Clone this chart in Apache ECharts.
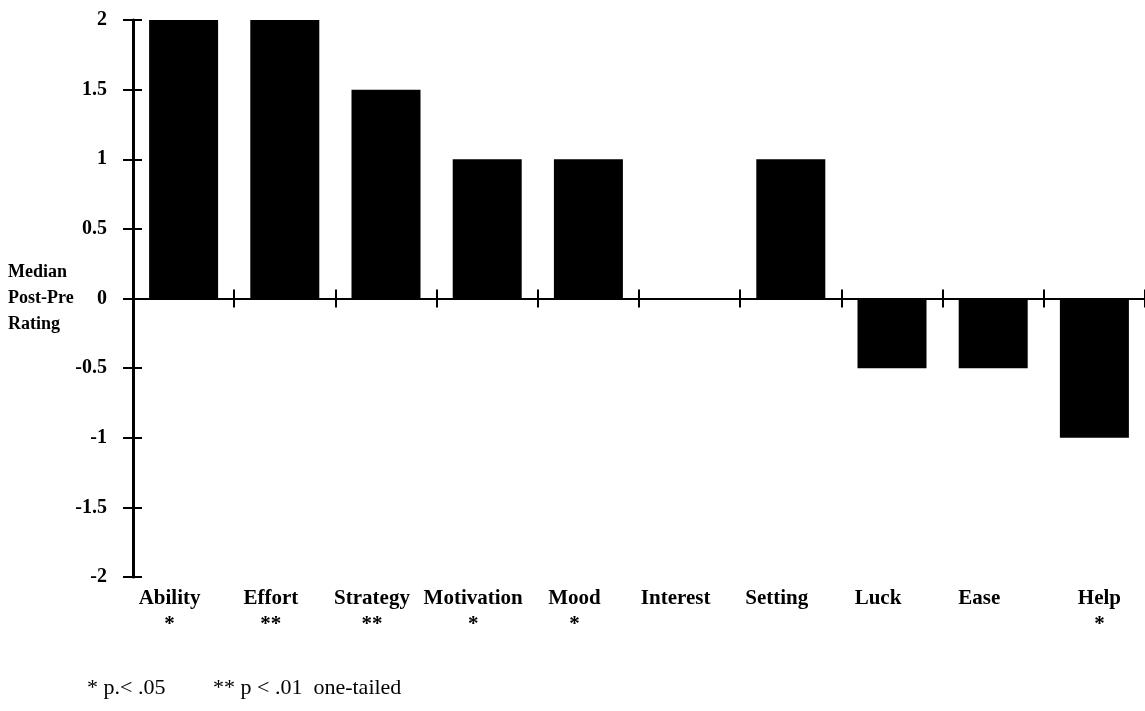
<!DOCTYPE html>
<html>
<head>
<meta charset="utf-8">
<script src="https://cdn.jsdelivr.net/npm/echarts@6/dist/echarts.min.js"></script>
<style>
  html, body { margin: 0; padding: 0; background: #fff; }
  #chart { width: 1145px; height: 711px; }
</style>
</head>
<body>
<div id="chart"></div>
<script>
// Attribution factors and their median post-minus-pre rating change
const categories = ['Ability', 'Effort', 'Strategy', 'Motivation', 'Mood', 'Interest', 'Setting', 'Luck', 'Ease', 'Help'];
const medianChange = [2, 2, 1.5, 1, 1, 0, 1, -0.5, -0.5, -1];
// Significance markers shown under each factor name
const significance = ['*', '**', '**', '*', '*', '', '', '', '', '*'];
const yTicks = { min: -2, max: 2, step: 0.5 };
const footnotes = ['* p.< .05', '** p < .01  one-tailed'];
const yTitle = ['Median', 'Post-Pre', 'Rating'];

const serif = '"Liberation Serif", "Times New Roman", serif';
const chart = echarts.init(document.getElementById('chart'), null, { renderer: 'canvas' });

const valueAxisBase = {
  type: 'value',
  position: 'left',
  min: yTicks.min,
  max: yTicks.max,
  interval: yTicks.step,
  splitLine: { show: false }
};

const catAxisBase = {
  type: 'category',
  data: categories,
  position: 'bottom',
  splitLine: { show: false },
  boundaryGap: true
};

// The last factor name sits a little right of its slot; the rest lean left.
const labelData = categories.map(function (name, i) {
  return i === categories.length - 1
    ? { value: name, textStyle: { padding: [0, 0, 0, 10] } }
    : name;
});

chart.setOption({
  animation: false,
  backgroundColor: '#fff',
  grid: { left: 133, right: -2, top: 20, bottom: 134, containLabel: false },
  yAxis: [
    Object.assign({}, valueAxisBase, {
      axisLine: { show: true, lineStyle: { color: '#000', width: 3 } },
      axisTick: { show: true, inside: false, length: 10, lineStyle: { color: '#000', width: 2 } },
      axisLabel: {
        show: true, margin: 26, color: '#000',
        fontFamily: serif, fontWeight: 'bold', fontSize: 20
      }
    }),
    Object.assign({}, valueAxisBase, {
      axisLine: { show: false },
      axisTick: { show: true, inside: true, length: 9, lineStyle: { color: '#000', width: 2 } },
      axisLabel: { show: false }
    })
  ],
  xAxis: [
    // zero line with ticks hanging below
    Object.assign({}, catAxisBase, {
      axisLine: { show: true, onZero: true, lineStyle: { color: '#000', width: 2 } },
      axisTick: { show: true, inside: false, length: 9, interval: 0, lineStyle: { color: '#000', width: 2 } },
      axisLabel: { show: false }
    }),
    // ticks rising above the zero line
    Object.assign({}, catAxisBase, {
      axisLine: { show: false, onZero: true },
      axisTick: { show: true, inside: true, length: 9, interval: 0, lineStyle: { color: '#000', width: 2 } },
      axisLabel: { show: false }
    }),
    // factor names and significance stars along the bottom
    Object.assign({}, catAxisBase, {
      data: labelData,
      axisLine: { show: false, onZero: false },
      axisTick: { show: false },
      axisLabel: {
        show: true,
        interval: 0,
        margin: 11,
        padding: [0, 28, 0, 0],
        formatter: function (value, idx) {
          return '{n|' + value + '}\n{s|' + (significance[idx] || ' ') + '}';
        },
        rich: {
          n: { fontFamily: serif, fontWeight: 'bold', fontSize: 21, color: '#000', lineHeight: 22 },
          s: { fontFamily: serif, fontWeight: 'bold', fontSize: 21, color: '#000', lineHeight: 30 }
        }
      }
    })
  ],
  series: [{
    type: 'bar',
    xAxisIndex: 0,
    yAxisIndex: 0,
    data: medianChange,
    barWidth: 69,
    itemStyle: { color: '#000' },
    silent: true
  }],
  graphic: [
    {
      type: 'text',
      left: 8,
      top: 259,
      style: {
        text: yTitle.join('\n'),
        font: 'bold 18px ' + serif,
        lineHeight: 26,
        fill: '#000'
      }
    },
    {
      type: 'text',
      left: 87,
      top: 677,
      style: { text: footnotes[0], font: '22px ' + serif, fill: '#000' }
    },
    {
      type: 'text',
      left: 213,
      top: 677,
      style: { text: footnotes[1], font: '22px ' + serif, fill: '#000' }
    }
  ]
});
</script>
</body>
</html>
